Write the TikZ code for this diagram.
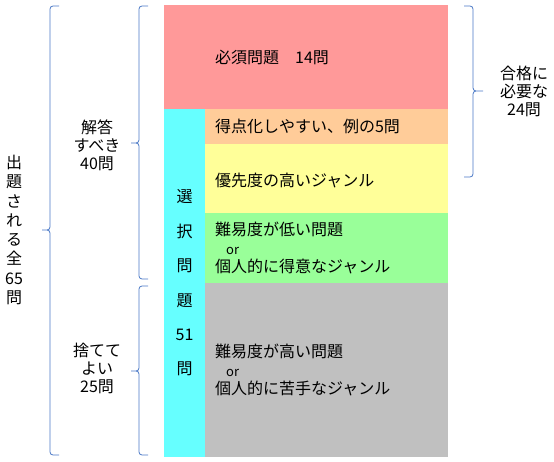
\documentclass[tikz,border=0pt]{standalone}
\usepackage{fontspec}
\setmainfont{Noto Sans CJK JP}
\usetikzlibrary{positioning}

\definecolor{mustred}{HTML}{FF9999}
\definecolor{selcyan}{HTML}{66FFFF}
\definecolor{easyorange}{HTML}{FFCC99}
\definecolor{prioyellow}{HTML}{FFFF99}
\definecolor{goodgreen}{HTML}{99FF99}
\definecolor{badgray}{HTML}{C0C0C0}
\definecolor{bracecol}{HTML}{4A78C6}

\begin{document}
\begin{tikzpicture}[x=1pt, y=-1pt,
    block/.style={rectangle, anchor=north west, inner sep=0pt, outer sep=0pt},
    txt/.style={font=\fontsize{16}{18.5}\selectfont, inner sep=0pt, align=left, anchor=west},
    side/.style={font=\fontsize{16}{18}\selectfont, inner sep=0pt, align=center},
    curly/.style={draw=bracecol, line width=0.8pt, rounded corners=3pt},
    ]
    \useasboundingbox (0,0) rectangle (554,462);

    %Blocks
    \node[block, fill=mustred,    minimum width=284pt, minimum height=104pt] (must)   at (164,5) {};
    \node[block, fill=selcyan,    minimum width=41pt,  minimum height=348pt] (select) at (must.south west) {};
    \node[block, fill=easyorange, minimum width=243pt, minimum height=35pt]  (easy)   at (select.north east) {};
    \node[block, fill=prioyellow, minimum width=243pt, minimum height=69pt]  (prio)   at (easy.south west) {};
    \node[block, fill=goodgreen,  minimum width=243pt, minimum height=70pt]  (good)   at (prio.south west) {};
    \node[block, fill=badgray,    minimum width=243pt, minimum height=174pt] (bad)    at (good.south west) {};

    %Texts
    \node[txt] (musttxt) at ([xshift=10pt]easy.west |- must.west) {必須問題\hspace{16pt}14問};
    \node[txt] (easytxt) at ([xshift=10pt]easy.west) {得点化しやすい、例の5問};
    \node[txt] (priotxt) at ([xshift=10pt,yshift=-2pt]prio.west) {優先度の高いジャンル};
    \node[txt] (goodtxt) at ([xshift=10pt]good.west) {難易度が低い問題\\\hspace{11pt}{\fontsize{13}{18.5}\selectfont or}\\個人的に得意なジャンル};
    \node[txt] (badtxt)  at ([xshift=10pt]bad.west) {難易度が高い問題\\\hspace{11pt}{\fontsize{13}{18.5}\selectfont or}\\個人的に苦手なジャンル};
    \node[side, font=\fontsize{16}{34.4}\selectfont] (seltxt) at (select.center) {選\\択\\問\\題\\51\\問};

    %Braces
    \coordinate (alltop)  at (59,6);
    \coordinate (alltip)  at (42,230);
    \coordinate (allbot)  at (59,455);
    \coordinate (anstop)  at (148,6);
    \coordinate (anstip)  at (131,143);
    \coordinate (ansbot)  at (148,279);
    \coordinate (skiptop) at (148,286);
    \coordinate (skiptip) at (131,371);
    \coordinate (skipbot) at (148,455);
    \coordinate (passtop) at (464,6);
    \coordinate (passtip) at (483,91);
    \coordinate (passbot) at (464,177);
    \draw[curly] (alltop) -- ++(-9,0) |- (alltip) (alltip) -- ++(8,0) |- (allbot);
    \draw[curly] (anstop) -- ++(-9,0) |- (anstip) (anstip) -- ++(8,0) |- (ansbot);
    \draw[curly] (skiptop) -- ++(-9,0) |- (skiptip) (skiptip) -- ++(8,0) |- (skipbot);
    \draw[curly] (passtop) -- ++(9,0) |- (passtip) (passtip) -- ++(-10,0) |- (passbot);

    \node[side, font=\fontsize{16}{19.3}\selectfont] (alltxt) at (14,230) {出\\題\\さ\\れ\\る\\全\\65\\問};
    \node[side] (anstxt)  at (97,145) {解答\\すべき\\40問};
    \node[side] (skiptxt) at (97,368) {捨てて\\よい\\25問};
    \node[side] (passtxt) at (524,91) {合格に\\必要な\\24問};
\end{tikzpicture}
\end{document}
